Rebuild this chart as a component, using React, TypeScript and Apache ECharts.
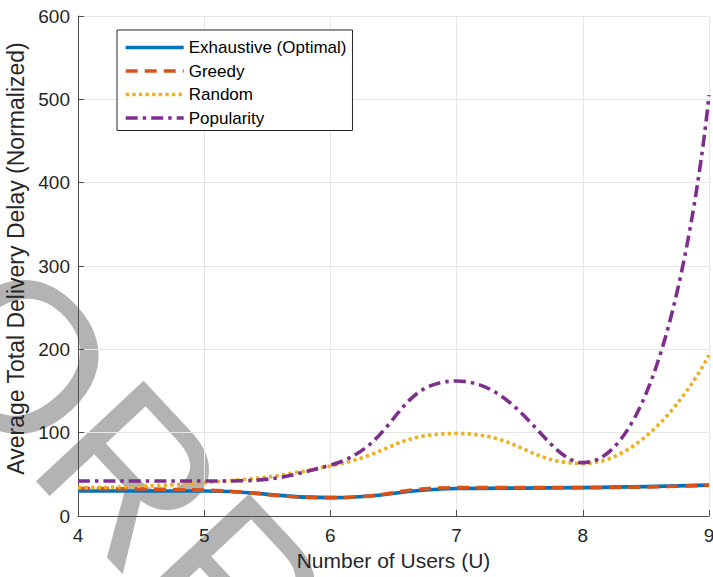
import React, { useEffect, useRef } from "react";
import * as echarts from "echarts";

const users = [4, 5, 6, 7, 8, 9];
const exhaustive = [30, 30, 22, 33, 34, 37];
const greedy = [33, 31, 22, 34, 34, 37];
const random = [34, 40, 60, 99, 63, 193];
const popularity = [42, 42, 61, 162, 64, 505];

const seriesNames = ["Exhaustive (Optimal)", "Greedy", "Random", "Popularity"];
const seriesColors = ["#0072BD", "#D95319", "#EDB120", "#7E2F8E"];
const seriesDash: (number[] | "solid")[] = ["solid", [12, 7], [3.4, 3.2], [12, 5, 3.5, 5]];
const seriesValues = [exhaustive, greedy, random, popularity];

const xTicks = [4, 5, 6, 7, 8, 9];
const yTicks = [0, 100, 200, 300, 400, 500, 600];

const FONT = '"Liberation Sans", Arial, Helvetica, sans-serif';

export default function App() {
  const ref = useRef<HTMLDivElement>(null);
  useEffect(() => {
    if (!ref.current) return;
    const chart = echarts.init(ref.current, null, { renderer: "svg" });
    const axisColor = "#4d4d4d";
    const option: any = {
      animation: false,
      backgroundColor: "#ffffff",
      textStyle: { fontFamily: FONT },
      grid: {
        left: 78,
        right: 4,
        top: 16,
        bottom: 61,
        containLabel: false,
        outerBoundsMode: "none",
      },
      graphic: [
        {
          type: "text",
          x: -35,
          y: 296,
          rotation: -0.82,
          z: -5,
          silent: true,
          style: {
            text: "ORR",
            font: '214px "Liberation Sans", Arial, sans-serif',
            fill: "#b3b3b3",
            align: "left",
            verticalAlign: "middle",
          },
        },
      ],
      legend: {
        orient: "vertical",
        left: 117,
        top: 30,
        itemWidth: 58,
        itemHeight: 14,
        itemGap: 6.5,
        padding: [9, 6, 4, 7],
        backgroundColor: "#ffffff",
        borderColor: "#262626",
        borderWidth: 1,
        borderRadius: 0,
        textStyle: { fontSize: 17, color: "#000000", fontFamily: FONT },
        itemStyle: { opacity: 0 },
        lineStyle: { width: 3.4 },
        data: seriesNames,
      },
      xAxis: {
        type: "value",
        min: xTicks[0],
        max: xTicks[xTicks.length - 1],
        interval: 1,
        name: "Number of Users (U)",
        nameLocation: "middle",
        nameGap: 33,
        nameTextStyle: { fontSize: 21, color: "#262626", fontFamily: FONT },
        axisLine: { show: true, onZero: false, lineStyle: { color: axisColor, width: 1 } },
        axisTick: { show: true, inside: true, length: 6, lineStyle: { color: axisColor } },
        axisLabel: { fontSize: 19, color: "#262626", margin: 10, fontFamily: FONT, showMaxLabel: true, showMinLabel: true },
        splitLine: { show: true, lineStyle: { color: "#e6e6e6", width: 1 } },
      },
      yAxis: {
        type: "value",
        min: yTicks[0],
        max: yTicks[yTicks.length - 1],
        interval: 100,
        name: "Average Total Delivery Delay (Normalized)",
        nameLocation: "middle",
        nameGap: 48,
        nameTextStyle: { fontSize: 23, color: "#262626", fontFamily: FONT, padding: [0, 0, 0, 15] },
        axisLine: { show: true, onZero: false, lineStyle: { color: axisColor, width: 1 } },
        axisTick: { show: true, inside: true, length: 6, lineStyle: { color: axisColor } },
        axisLabel: { fontSize: 19, color: "#262626", margin: 8, fontFamily: FONT, showMaxLabel: true, showMinLabel: true },
        splitLine: { show: true, lineStyle: { color: "#e6e6e6", width: 1 } },
      },
      series: seriesNames.map((name, i) => ({
        name,
        type: "line",
        smooth: true,
        symbol: "none",
        clip: false,
        data: users.map((u, j) => [u, seriesValues[i][j]]),
        itemStyle: { color: seriesColors[i] },
        lineStyle: { color: seriesColors[i], width: 3.6, type: seriesDash[i] },
      })),
    };
    chart.setOption(option);
    return () => chart.dispose();
  }, []);
  return (
    <div
      ref={ref}
      style={{ position: "fixed", left: 0, top: 0, width: 713, height: 577, background: "#fff" }}
    />
  );
}
